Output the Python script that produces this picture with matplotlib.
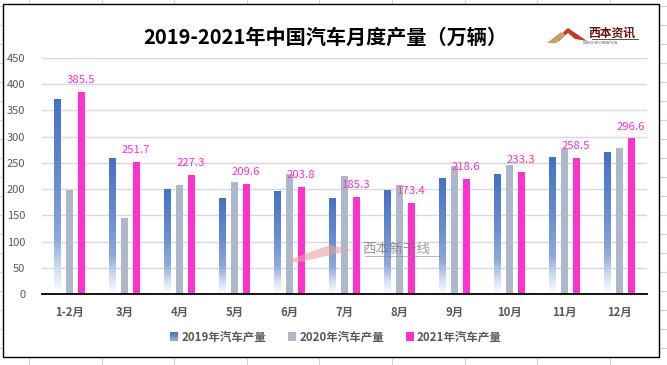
import matplotlib
matplotlib.use("Agg")
import matplotlib.pyplot as plt
import numpy as np
from matplotlib.patches import Rectangle, Polygon, Patch
from matplotlib.lines import Line2D
from matplotlib.legend_handler import HandlerBase
from matplotlib.colors import LinearSegmentedColormap

plt.rcParams['font.family'] = ['Noto Sans CJK SC', 'DejaVu Sans']

categories = ['1-2月', '3月', '4月', '5月', '6月', '7月', '8月', '9月', '10月', '11月', '12月']
prod_2019 = [370, 258, 200, 183, 195, 183, 198, 221, 227, 260, 269]
prod_2020 = [199, 145, 208, 214, 229, 225, 208, 244, 246, 277, 279]
prod_2021 = [385.5, 251.7, 227.3, 209.6, 203.8, 185.3, 173.4, 218.6, 233.3, 258.5, 296.6]
series_names = ['2019年汽车产量', '2020年汽车产量', '2021年汽车产量']
yticks = [0, 50, 100, 150, 200, 250, 300, 350, 400, 450]

C_BLUE = '#4472C4'
C_GRAY = '#ADB9CA'
C_PINK = '#FF33CC'
TXT = '#595959'

W, H = 667, 365
fig = plt.figure(figsize=(W / 100, H / 100), dpi=100)
fig.patch.set_facecolor('white')

# spreadsheet background grid
for xv in np.arange(29, W, 72.6):
    fig.add_artist(Line2D([xv / W, xv / W], [0, 1], color='#D4D4D4', lw=0.8, zorder=-3))
for yv in np.arange(5.7, H, 19):
    fig.add_artist(Line2D([0, 1], [1 - yv / H, 1 - yv / H], color='#D4D4D4', lw=0.8, zorder=-3))
# chart area
fig.add_artist(Rectangle((3 / W, 1 - 357 / H), (659 - 3) / W, (357 - 4) / H,
                         transform=fig.transFigure, facecolor='white', edgecolor='black',
                         lw=1.0, zorder=-2))

L, R, T, B = 42, 647, 58, 294
ax = fig.add_axes([L / W, 1 - B / H, (R - L) / W, (B - T) / H])
ax.set_facecolor('none')

x = np.arange(len(categories))
off = 0.21
bw = 0.126

cmap = LinearSegmentedColormap.from_list('g', [(0, '#FFFFFF'), (0.12, '#D5E0F3'), (0.28, '#8EAADB'),
                                               (0.55, '#6A8FD2'), (1.0, C_BLUE)])
grad = np.linspace(0, 1, 256).reshape(-1, 1)
for xi, v in zip(x, prod_2019):
    ax.imshow(grad, extent=[xi - off - bw / 2, xi - off + bw / 2, 0, v], origin='lower',
              aspect='auto', cmap=cmap, zorder=2, interpolation='bilinear')
ax.bar(x - off, prod_2019, bw, color='none', zorder=2)
ax.bar(x, prod_2020, bw, color=C_GRAY, zorder=2)
ax.bar(x + off, prod_2021, bw, color=C_PINK, zorder=2)

for xi, v in zip(x, prod_2021):
    ax.annotate(f'{v:.1f}', (xi + off, v), xytext=(0, 5), textcoords='offset points',
                ha='center', va='bottom', color=C_PINK, fontsize=8.2, zorder=4)

ax.set_xlim(-0.5, len(categories) - 0.5)
ax.set_ylim(0, 450)
ax.set_yticks(yticks)
ax.set_yticklabels([str(t) for t in yticks], color=TXT, fontsize=8)
ax.set_xticks(x)
ax.set_xticklabels(categories, color=TXT, fontsize=8.2, fontweight='bold')
ax.tick_params(axis='both', length=0)
ax.tick_params(axis='y', pad=12)
ax.tick_params(axis='x', pad=8.5)
ax.yaxis.grid(True, color='#D9D9D9', lw=1.0, zorder=0)
ax.set_axisbelow(True)
for s in ['top', 'right', 'left']:
    ax.spines[s].set_visible(False)
ax.spines['bottom'].set_color('black')
ax.spines['bottom'].set_linewidth(1.3)
ax.spines['bottom'].set_zorder(5)


class GradHandler(HandlerBase):
    def create_artists(self, legend, orig_handle, xdescent, ydescent, width, height, fontsize, trans):
        arts = []
        n = 8
        for i in range(n):
            c = cmap(0.25 + 0.75 * (i + 0.5) / n)
            arts.append(Rectangle((-xdescent, -ydescent + height * i / n), width, height / n + 0.1,
                                  facecolor=c, edgecolor='none', transform=trans))
        return arts


h1 = Patch(facecolor=C_BLUE)
h2 = Patch(facecolor=C_GRAY)
h3 = Patch(facecolor=C_PINK)
leg = fig.legend([h1, h2, h3], series_names, loc='center', bbox_to_anchor=(336 / W, 1 - 337 / H),
                 ncol=3, frameon=False, handlelength=0.7, handleheight=0.7, handletextpad=0.25,
                 columnspacing=1.9, prop={'size': 8.3, 'weight': 'bold'},
                 handler_map={h1: GradHandler()})
for t in leg.get_texts():
    t.set_color(TXT)

fig.text(325 / W, 1 - 37 / H, '2019-2021年中国汽车月度产量（万辆）', ha='center', va='center',
         fontsize=14.5, fontweight='bold', color='black')

# logo (top right)
fig.add_artist(Polygon([[552 / W, 1 - 42 / H], [568 / W, 1 - 28 / H], [587 / W, 1 - 41 / H],
                        [575 / W, 1 - 39 / H], [568 / W, 1 - 33 / H], [559 / W, 1 - 41 / H]],
                       closed=True, transform=fig.transFigure, facecolor='#C0392B', edgecolor='none'))
fig.add_artist(Polygon([[547 / W, 1 - 43 / H], [561 / W, 1 - 32 / H], [566 / W, 1 - 35 / H],
                        [556 / W, 1 - 43 / H]],
                       closed=True, transform=fig.transFigure, facecolor='#C9A063', edgecolor='none'))
fig.text(612 / W, 1 - 33 / H, '西本资讯', ha='center', va='center', fontsize=8.5, fontweight='bold',
         color='#6B1010', style='italic')
fig.add_artist(Line2D([592 / W, 638 / W], [1 - 39 / H, 1 - 39 / H], color='#333333', lw=0.6))
fig.text(600 / W, 1 - 43 / H, 'XIBEN INFORMATION', ha='center', va='center', fontsize=2.5,
         color='#555555')

# watermark
fig.add_artist(Polygon([[283 / W, 1 - 262 / H], [330 / W, 1 - 245 / H], [352 / W, 1 - 250 / H],
                        [300 / W, 1 - 262 / H]], closed=True, transform=fig.transFigure,
                       facecolor='#E8A0A0', edgecolor='none', alpha=0.6, zorder=6))
fig.text(396 / W, 1 - 249 / H, '西本新干线', ha='center', va='center', fontsize=9.8,
         color='#777777', alpha=0.75, style='italic', zorder=6)
fig.add_artist(Line2D([365 / W, 440 / W], [1 - 256 / H, 1 - 256 / H], color='#888888', lw=0.6,
                      alpha=0.7, zorder=6))

fig.savefig('out.png', dpi=100, facecolor='white')
